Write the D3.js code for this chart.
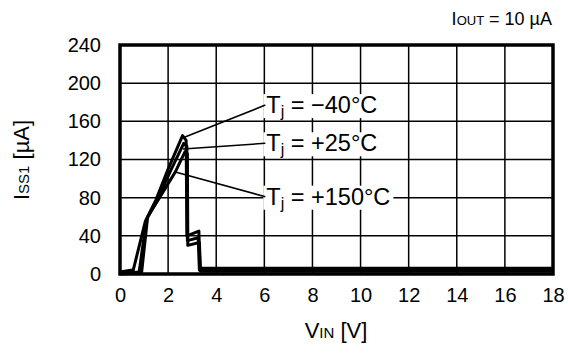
<!DOCTYPE html>
<html><head><meta charset="utf-8">
<script src="https://cdn.jsdelivr.net/npm/d3@7"></script>
<style>body{margin:0;background:#fff}svg{display:block}text{font-family:"Liberation Sans",Arial,sans-serif;fill:#000}</style>
</head><body>
<svg id="c" width="568" height="353"></svg>
<script>
const xTicks = [0,2,4,6,8,10,12,14,16,18];
const yTicks = [0,40,80,120,160,200,240];

const vM40 = [0,0.45,0.55,1.05,1.5,2.0,2.6,2.75,2.78,3.28,3.32,18];
const iM40 = [2,4,4,55,78,110,145,140,40,45,6,6];
const v25  = [0,0.75,0.8,1.1,1.6,2.1,2.65,2.78,2.8,3.25,3.3,18];
const i25  = [1,2,3,57,80,108,137,134,35,38,4,4];
const v150 = [0,0.8,0.9,1.15,1.6,2.3,2.7,2.8,2.82,3.3,3.35,18];
const i150 = [0,1,2,60,78,107,128,126,30,33,3,3];

const labels = ["\u221240\u00B0C","+25\u00B0C","+150\u00B0C"];
const leaderFrom = [[2.65,143],[2.62,131],[2.3,107]];
const leaderTo = [[6.0,177],[6.0,137],[6.0,81]];

const svg = d3.select("#c");
const x = d3.scaleLinear().domain([0,18]).range([120,553]);
const y = d3.scaleLinear().domain([0,240]).range([274,45]);

// grid
svg.append("g").selectAll("line").data(xTicks.slice(1,-1)).join("line")
  .attr("x1",d=>x(d)).attr("x2",d=>x(d)).attr("y1",y(240)).attr("y2",y(0))
  .attr("stroke","#000").attr("stroke-width",1.5);
svg.append("g").selectAll("line").data(yTicks.slice(1,-1)).join("line")
  .attr("y1",d=>y(d)).attr("y2",d=>y(d)).attr("x1",x(0)).attr("x2",x(18))
  .attr("stroke","#000").attr("stroke-width",1.5);

// tick labels via d3 axes (no lines)
const xa = svg.append("g").attr("transform",`translate(0,${y(0)})`)
  .call(d3.axisBottom(x).tickValues(xTicks).tickSize(0).tickPadding(14));
xa.select(".domain").remove();
xa.selectAll("text").attr("font-size",20).attr("font-family","Liberation Sans, Arial, sans-serif");
const ya = svg.append("g").attr("transform",`translate(${x(0)},0)`)
  .call(d3.axisLeft(y).tickValues(yTicks).tickSize(0).tickPadding(19));
ya.select(".domain").remove();
ya.selectAll("text").attr("font-size",20).attr("font-family","Liberation Sans, Arial, sans-serif");

// curves
const line = d3.line().x(d=>x(d[0])).y(d=>y(d[1]));
[[vM40,iM40],[v25,i25],[v150,i150]].forEach(([vs,is])=>{
  svg.append("path").datum(vs.map((v,i)=>[v,is[i]])).attr("d",line)
    .attr("fill","none").attr("stroke","#000").attr("stroke-width",3).attr("stroke-linejoin","round");
});

// frame
svg.append("rect").attr("x",x(0)).attr("y",y(240)).attr("width",x(18)-x(0)).attr("height",y(0)-y(240))
  .attr("fill","none").attr("stroke","#000").attr("stroke-width",3.5);

// labels
labels.forEach((t,i)=>{
  const [fx,fy]=leaderFrom[i],[tx,ty]=leaderTo[i];
  const g = svg.append("g");
  const txt = g.append("text").attr("x",x(tx)+2).attr("y",y(ty)+8).attr("font-size",23.5);
  txt.append("tspan").text("T");
  txt.append("tspan").text("j").attr("font-size",16).attr("dy",4);
  txt.append("tspan").text(" = "+t).attr("dy",-4);
  const bb = txt.node().getBBox();
  g.insert("rect","text").attr("x",bb.x-3).attr("y",bb.y+2).attr("width",bb.width+6).attr("height",bb.height-4).attr("fill","#fff");
  svg.append("line").attr("x1",x(fx)).attr("y1",y(fy)).attr("x2",x(tx)+1).attr("y2",y(ty))
    .attr("stroke","#000").attr("stroke-width",1.6);
});

// axis titles
const xt = svg.append("text").attr("x",336).attr("y",338).attr("text-anchor","middle").attr("font-size",22);
xt.append("tspan").text("V");
xt.append("tspan").text("IN").attr("font-size",15);
xt.append("tspan").text(" [V]");

const yt = svg.append("text").attr("transform","translate(29,160) rotate(-90)").attr("text-anchor","middle").attr("font-size",22);
yt.append("tspan").text("I");
yt.append("tspan").text("SS1").attr("font-size",15);
yt.append("tspan").text(" [\u00B5A]");

const tt = svg.append("text").attr("x",552).attr("y",25).attr("text-anchor","end").attr("font-size",18);
tt.append("tspan").text("I");
tt.append("tspan").text("OUT").attr("font-size",13);
tt.append("tspan").text(" = 10 \u00B5A");
</script>
</body></html>
